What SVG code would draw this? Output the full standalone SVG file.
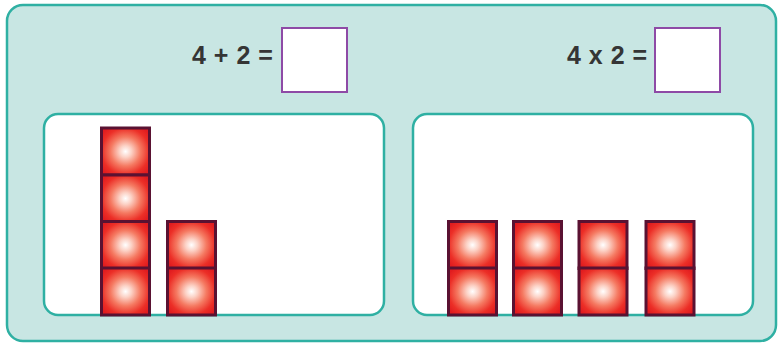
<svg xmlns="http://www.w3.org/2000/svg" width="779" height="345" viewBox="0 0 779 345">
  <defs>
    <radialGradient id="glow" cx="50%" cy="50%" r="62%">
      <stop offset="0" stop-color="#ffffff"/>
      <stop offset="0.2" stop-color="#fcd2c6"/>
      <stop offset="0.5" stop-color="#f57a62"/>
      <stop offset="0.8" stop-color="#ec2f27"/>
      <stop offset="1" stop-color="#e11c1f"/>
    </radialGradient>
    <g id="cube">
      <rect x="0" y="0" width="48" height="47" fill="url(#glow)" stroke="#5a1232" stroke-width="3"/>
    </g>
  </defs>
  <style>
    .panel { fill: #c8e6e3; stroke: #2fb0a3; stroke-width: 2.5; }
    .card { fill: #ffffff; stroke: #2fb0a3; stroke-width: 2.5; }
    .answer { fill: #ffffff; stroke: #8e4aa6; stroke-width: 2; }
    .sum { font-family: "Liberation Sans", Arial, sans-serif; font-weight: bold; font-size: 25px; letter-spacing: 0.5px; fill: #353535; }
  </style>

  <!-- background panel -->
  <rect id="panel" class="panel" x="7" y="5" width="769" height="336" rx="16"/>

  <!-- addition sum -->
  <g id="sum-add">
    <text class="sum" x="192" y="64">4 + 2 =</text>
    <rect class="answer" x="282" y="28" width="65" height="64"/>
  </g>

  <!-- multiplication sum -->
  <g id="sum-multiply">
    <text class="sum" x="567" y="64">4 x 2 =</text>
    <rect class="answer" x="655" y="28" width="65" height="64"/>
  </g>

  <!-- left card: a tower of 4 and a tower of 2 -->
  <g id="card-add">
    <rect class="card" x="44" y="114" width="340" height="201" rx="14"/>
    <use href="#cube" x="101.5" y="128"/>
    <use href="#cube" x="101.5" y="175"/>
    <use href="#cube" x="101.5" y="221.5"/>
    <use href="#cube" x="101.5" y="268"/>
    <use href="#cube" x="167.5" y="221.5"/>
    <use href="#cube" x="167.5" y="268"/>
  </g>

  <!-- right card: four towers of 2 -->
  <g id="card-multiply">
    <rect class="card" x="413" y="114" width="340" height="201" rx="14"/>
    <use href="#cube" x="448.5" y="221.5"/>
    <use href="#cube" x="448.5" y="268"/>
    <use href="#cube" x="513.5" y="221.5"/>
    <use href="#cube" x="513.5" y="268"/>
    <use href="#cube" x="579" y="221.5"/>
    <use href="#cube" x="579" y="268"/>
    <use href="#cube" x="646" y="221.5"/>
    <use href="#cube" x="646" y="268"/>
  </g>

  <g id="connectors"/>
</svg>
